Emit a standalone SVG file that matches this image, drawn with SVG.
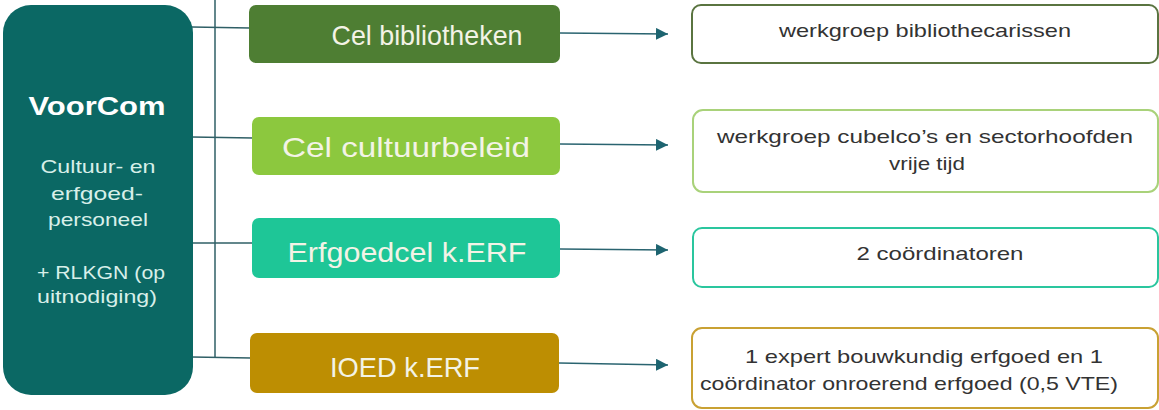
<svg xmlns="http://www.w3.org/2000/svg" width="1159" height="410" viewBox="0 0 1159 410">
<defs>
<style>
.cel{font-family:"Liberation Sans",Arial,sans-serif;font-size:28px;fill:#f3f3e6;}
.lbl{font-family:"Liberation Sans",Arial,sans-serif;font-size:19px;fill:#333333;}
.vc{font-family:"Liberation Sans",Arial,sans-serif;fill:#d8efe9;font-size:19px;}
.conn{stroke:#2f5f66;stroke-width:1.5;fill:none;}
.arr{stroke:#2a6470;stroke-width:1.5;fill:none;marker-end:url(#ah);}
.out{fill:#ffffff;stroke-width:2;}
</style>
<marker id="ah" viewBox="0 0 10 10" refX="10" refY="5" markerWidth="12" markerHeight="12" markerUnits="userSpaceOnUse" orient="auto">
<path d="M0,0 L10,5 L0,10 z" fill="#1d6470"/>
</marker>
</defs>
<g id="connectors">
<line class="conn" x1="215" y1="0" x2="215" y2="358"/>
<line class="conn" x1="192" y1="27" x2="250" y2="28"/>
<line class="conn" x1="192" y1="137" x2="253" y2="138"/>
<line class="conn" x1="192" y1="243" x2="253" y2="243"/>
<line class="conn" x1="192" y1="357" x2="251" y2="358"/>
<line class="arr" x1="560" y1="33" x2="668" y2="34"/>
<line class="arr" x1="560" y1="144" x2="668" y2="145"/>
<line class="arr" x1="560" y1="249" x2="668" y2="250"/>
<line class="arr" x1="559" y1="363" x2="668" y2="365"/>
</g>
<g id="voorcom">
<rect x="3" y="5" width="190" height="390" rx="28" fill="#0b6864"/>
<text x="97" y="115" text-anchor="middle" font-family="'Liberation Sans',Arial,sans-serif" font-weight="bold" font-size="25" fill="#ffffff" textLength="137" lengthAdjust="spacingAndGlyphs">VoorCom</text>
<text class="vc" x="98" y="173" text-anchor="middle" textLength="115" lengthAdjust="spacingAndGlyphs">Cultuur- en</text>
<text class="vc" x="97" y="200" text-anchor="middle" textLength="92" lengthAdjust="spacingAndGlyphs">erfgoed-</text>
<text class="vc" x="98" y="226" text-anchor="middle" textLength="100" lengthAdjust="spacingAndGlyphs">personeel</text>
<text class="vc" x="101" y="279" text-anchor="middle" textLength="128" lengthAdjust="spacingAndGlyphs">+ RLKGN (op</text>
<text class="vc" x="97" y="303" text-anchor="middle" textLength="120" lengthAdjust="spacingAndGlyphs">uitnodiging)</text>
</g>
<g id="cel-bibliotheken">
<rect x="249" y="5" width="311" height="58" rx="7" fill="#4e7e33"/>
<text class="cel" x="427" y="45" text-anchor="middle" textLength="191" lengthAdjust="spacingAndGlyphs">Cel bibliotheken</text>
</g>
<g id="cel-cultuurbeleid">
<rect x="252" y="117" width="308" height="58" rx="7" fill="#8cc83e"/>
<text class="cel" x="406" y="157" text-anchor="middle" textLength="248" lengthAdjust="spacingAndGlyphs">Cel cultuurbeleid</text>
</g>
<g id="erfgoedcel">
<rect x="252" y="218" width="308" height="60" rx="7" fill="#1ec697"/>
<text class="cel" x="407" y="262" text-anchor="middle" textLength="239" lengthAdjust="spacingAndGlyphs">Erfgoedcel k.ERF</text>
</g>
<g id="ioed">
<rect x="250" y="333" width="309" height="60" rx="7" fill="#bd8e02"/>
<text class="cel" x="405" y="377" text-anchor="middle" textLength="150" lengthAdjust="spacingAndGlyphs">IOED k.ERF</text>
</g>
<g id="wg-bib">
<rect class="out" x="692" y="5" width="466" height="58" rx="9" stroke="#5a7440"/>
<text class="lbl" x="925" y="37" text-anchor="middle" textLength="292" lengthAdjust="spacingAndGlyphs">werkgroep bibliothecarissen</text>
</g>
<g id="wg-cubelco">
<rect class="out" x="693" y="110" width="465" height="82" rx="10" stroke="#a9d27a"/>
<text class="lbl" x="925" y="143" text-anchor="middle" textLength="416" lengthAdjust="spacingAndGlyphs">werkgroep cubelco’s en sectorhoofden</text>
<text class="lbl" x="927" y="170" text-anchor="middle" textLength="76" lengthAdjust="spacingAndGlyphs">vrije tijd</text>
</g>
<g id="coordinatoren">
<rect class="out" x="693" y="228" width="465" height="59" rx="9" stroke="#2ac69e"/>
<text class="lbl" x="940" y="260" text-anchor="middle" textLength="167" lengthAdjust="spacingAndGlyphs">2 coördinatoren</text>
</g>
<g id="expert">
<rect class="out" x="692" y="328" width="466" height="80" rx="10" stroke="#c9a133"/>
<text class="lbl" x="924" y="363" text-anchor="middle" textLength="358" lengthAdjust="spacingAndGlyphs">1 expert bouwkundig erfgoed en 1</text>
<text class="lbl" x="909" y="390" text-anchor="middle" textLength="418" lengthAdjust="spacingAndGlyphs">coördinator onroerend erfgoed (0,5 VTE)</text>
</g>
</svg>
